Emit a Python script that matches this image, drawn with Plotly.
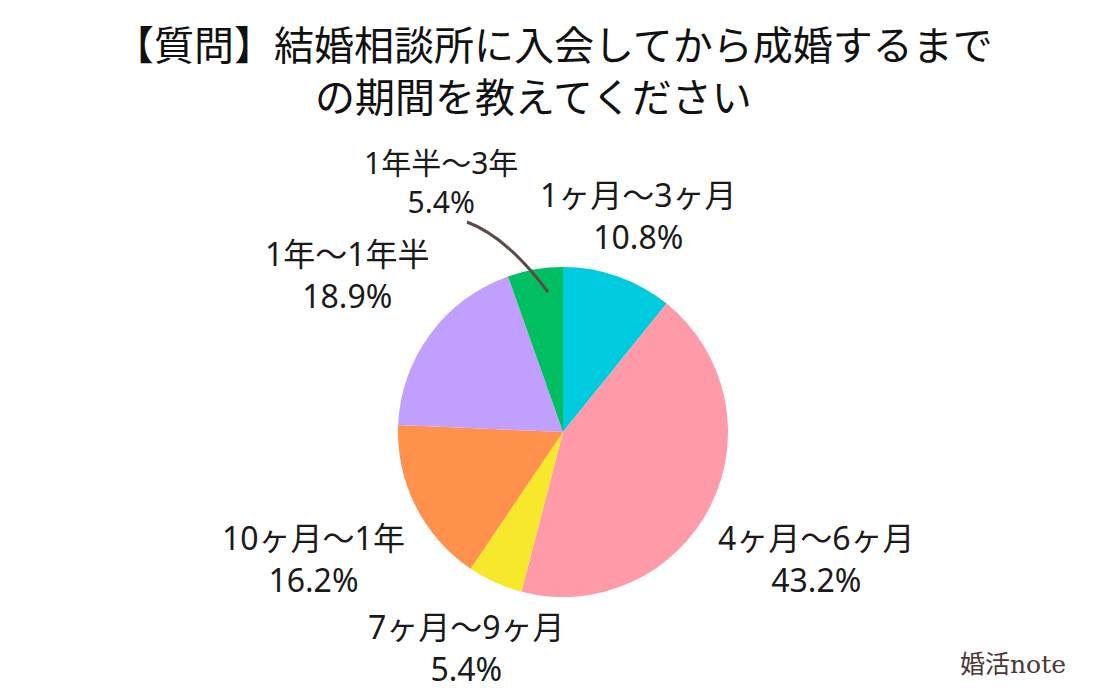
import plotly.graph_objects as go

categories = ["1ヶ月〜3ヶ月", "4ヶ月〜6ヶ月", "7ヶ月〜9ヶ月", "10ヶ月〜1年", "1年〜1年半", "1年半〜3年"]
values = [10.8, 43.2, 5.4, 16.2, 18.9, 5.4]
colors = ["#00CBDE", "#FF9AA9", "#F8E82C", "#FF914D", "#C09FFF", "#00BF63"]
title_lines = ["【質問】結婚相談所に入会してから成婚するまで", "の期間を教えてください　"]

# label block centre positions in pixels: (x, y, font size)
label_pos = [(638, 215, 32), (816, 558, 32), (466, 647, 32), (313, 558, 32), (347, 275, 32), (441, 182, 30)]

W, H = 1100, 700
cx, cy, r = 563, 432, 165

fig = go.Figure()
fig.add_trace(go.Pie(
    labels=categories, values=values, sort=False, direction="clockwise", rotation=0,
    marker=dict(colors=colors, line=dict(width=0)),
    textinfo="none", hoverinfo="label+percent", showlegend=False,
    domain=dict(x=[(cx - r) / W, (cx + r) / W], y=[1 - (cy + r) / H, 1 - (cy - r) / H]),
))

font = "Noto Sans CJK JP"
ann = [dict(text="<br>".join(title_lines), x=553 / W, y=1 - 69 / H, xref="paper", yref="paper",
            showarrow=False, font=dict(family=font, size=40, color="#111111"), align="center",
            xanchor="center", yanchor="middle")]
for cat, v, (px, py, fs) in zip(categories, values, label_pos):
    ann.append(dict(text=f"{cat}<br>{v:.1f}%", x=px / W, y=1 - py / H, xref="paper", yref="paper",
                    showarrow=False, align="center",
                    font=dict(family="Noto Sans, " + font, size=fs, color="#1a1a1a"),
                    xanchor="center", yanchor="middle"))
ann.append(dict(text="<span style='font-family:Noto Sans CJK JP'>婚活</span><span style='font-family:DejaVu Serif'>note</span>",
                x=1013 / W, y=1 - 662 / H, xref="paper", yref="paper", showarrow=False,
                font=dict(family=font, size=25, color="#4b3835"), xanchor="center", yanchor="middle"))

fig.update_layout(
    width=W, height=H, margin=dict(l=0, r=0, t=0, b=0),
    paper_bgcolor="white", plot_bgcolor="white", annotations=ann,
    xaxis=dict(visible=False, range=[0, W]), yaxis=dict(visible=False, range=[H, 0]),
    shapes=[dict(type="path", path="M 467 222 Q 507 237 548 292", xref="x", yref="y",
                 line=dict(color="#5a4a48", width=3))],
)
fig.write_html("out.html")
